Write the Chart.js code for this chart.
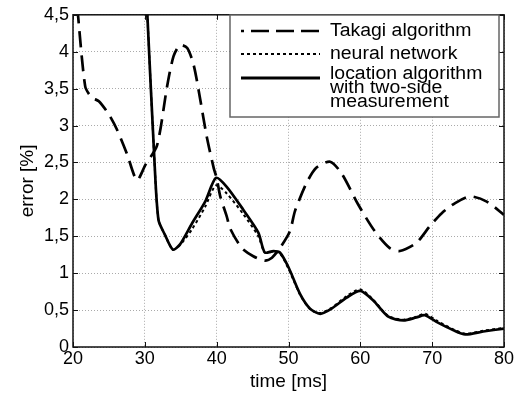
<!DOCTYPE html>
<html lang="en">
<head>
  <meta charset="UTF-8" />
  <title>error vs time</title>
  <style>
    html, body { margin: 0; padding: 0; background: #fff; }
    .wrap { width: 520px; height: 399px; position: relative; }
  </style>
</head>
<body>
  <div class="wrap">
    <canvas id="errChart" width="520" height="399"></canvas>
  </div>

  <script src="https://cdn.jsdelivr.net/npm/chart.js"></script>
  <script>
    // Takagi algorithm (dashed)
    const takagiTime = [20.6, 21.7, 22.6, 23.6, 25.0, 26.1, 27.5, 28.9, 30.1, 31.7, 33.1, 34.0, 34.9, 35.9, 36.8, 37.7, 38.6, 39.6, 40.0,
                        40.5, 41.4, 41.9, 43.5, 45.1, 46.7, 47.7, 48.8, 50.2, 50.9, 52.5, 53.9, 55.8, 57.4, 59.7, 62.0, 64.1, 65.5,
                        67.8, 69.7, 71.3, 73.2, 75.3, 77.6, 80.0];
    const takagiErr  = [4.6, 3.53, 3.38, 3.33, 3.15, 2.95, 2.62, 2.26, 2.47, 2.73, 3.53, 3.94, 4.09, 4.05, 3.82, 3.36, 2.86, 2.42, 2.29,
                        2.04, 1.77, 1.6, 1.34, 1.23, 1.17, 1.21, 1.34, 1.57, 1.84, 2.22, 2.43, 2.51, 2.35, 1.93, 1.57, 1.34, 1.30,
                        1.41, 1.64, 1.81, 1.95, 2.04, 1.97, 1.79];

    // neural network (dotted) and location algorithm (solid) share time points
    const locTime   = [30.3, 31.35, 31.9, 32.8, 33.9, 34.9, 36.6, 38.4, 39.9, 41.4, 43.7, 45.8, 46.7, 47.9, 48.8, 50.0,
                       51.6, 53.0, 54.4, 56.0, 58.1, 60.0, 61.8, 63.9, 66.0, 67.8, 69.0, 70.6, 72.9, 74.6, 77.1, 80.0];
    const neuralErr = [4.6, 2.5, 1.72, 1.52, 1.32, 1.38, 1.6, 1.9, 2.19, 2.08, 1.8, 1.5, 1.28, 1.29, 1.27, 1.06,
                       0.71, 0.51, 0.46, 0.53, 0.69, 0.78, 0.64, 0.42, 0.37, 0.41, 0.45, 0.36, 0.24, 0.18, 0.22, 0.26];
    const locErr    = [4.6, 2.5, 1.72, 1.52, 1.32, 1.39, 1.68, 1.97, 2.29, 2.17, 1.86, 1.55, 1.28, 1.30, 1.28, 1.08,
                       0.72, 0.52, 0.45, 0.52, 0.67, 0.76, 0.63, 0.41, 0.36, 0.40, 0.43, 0.34, 0.23, 0.17, 0.21, 0.25];

    const seriesNames = ["Takagi algorithm", "neural network", ["location algorithm", "with two-side", "measurement"]];

    const xMin = 20, xMax = 80, xStep = 10;
    const yMin = 0, yMax = 4.5, yStep = 0.5;

    const pts = (xs, ys) => xs.map((x, i) => ({ x: x, y: ys[i] }));
    const FONT = "'Liberation Sans', Arial, sans-serif";

    // frame, inward ticks and the boxed legend, matlab style
    const framePlugin = {
      id: "frame",
      afterDraw(chart) {
        const ctx = chart.ctx;
        const a = chart.chartArea;
        const sx = chart.scales.x, sy = chart.scales.y;
        ctx.save();
        ctx.strokeStyle = "#111";
        ctx.lineWidth = 1.5;
        ctx.strokeRect(a.left, a.top, a.right - a.left, a.bottom - a.top);
        ctx.lineWidth = 1;
        for (let v = xMin; v <= xMax; v += xStep) {
          const px = Math.round(sx.getPixelForValue(v)) + 0.5;
          ctx.beginPath();
          ctx.moveTo(px, a.bottom); ctx.lineTo(px, a.bottom - 5);
          ctx.moveTo(px, a.top); ctx.lineTo(px, a.top + 5);
          ctx.stroke();
        }
        for (let v = yMin; v <= yMax + 1e-9; v += yStep) {
          const py = Math.round(sy.getPixelForValue(v)) + 0.5;
          ctx.beginPath();
          ctx.moveTo(a.left, py); ctx.lineTo(a.left + 5, py);
          ctx.moveTo(a.right, py); ctx.lineTo(a.right - 5, py);
          ctx.stroke();
        }

        // legend
        const bx = 230, by = 15, bw = 269, bh = 102;
        ctx.fillStyle = "#fff";
        ctx.fillRect(bx, by, bw, bh);
        ctx.strokeStyle = "#666";
        ctx.lineWidth = 1.5;
        ctx.strokeRect(bx, by, bw, bh);

        const rows = [
          { y: 31, dash: [18, 7], off: 15, width: 2.5 },
          { y: 54, dash: [3, 3], off: 0, width: 2 },
          { y: 78, dash: [], off: 0, width: 3 }
        ];
        ctx.strokeStyle = "#000";
        rows.forEach(r => {
          ctx.beginPath();
          ctx.setLineDash(r.dash);
          ctx.lineDashOffset = r.off;
          ctx.lineWidth = r.width;
          ctx.moveTo(241, r.y); ctx.lineTo(320, r.y);
          ctx.stroke();
        });
        ctx.setLineDash([]);
        ctx.fillStyle = "#000";
        ctx.textBaseline = "middle";
        ctx.textAlign = "left";
        ctx.font = "18px " + FONT;
        const lines = [[seriesNames[0], 31], [seriesNames[1], 54],
                       [seriesNames[2][0], 74], [seriesNames[2][1], 88], [seriesNames[2][2], 102]];
        lines.forEach(([t, y]) => {
          ctx.save();
          ctx.translate(330, y);
          ctx.scale(1.08, 1);
          ctx.fillText(t, 0, 0);
          ctx.restore();
        });
        ctx.restore();
      }
    };

    new Chart(document.getElementById("errChart"), {
      type: "line",
      data: {
        datasets: [
          {
            label: "Takagi algorithm",
            data: pts(takagiTime, takagiErr),
            borderColor: "#000",
            borderWidth: 2.7,
            borderDash: [16, 8],
            tension: 0.25,
            pointRadius: 0,
            order: 2
          },
          {
            label: "neural network",
            data: pts(locTime, neuralErr),
            borderColor: "#000",
            borderWidth: 2,
            borderDash: [3, 3],
            tension: 0.25,
            pointRadius: 0,
            order: 1
          },
          {
            label: "location algorithm with two-side measurement",
            data: pts(locTime, locErr),
            borderColor: "#000",
            borderWidth: 2.7,
            tension: 0.25,
            pointRadius: 0,
            order: 0
          }
        ]
      },
      options: {
        responsive: false,
        animation: false,
        layout: { padding: { left: 0, right: 16, top: 11, bottom: 6 } },
        plugins: {
          legend: { display: false },
          tooltip: { enabled: false }
        },
        scales: {
          x: {
            type: "linear",
            min: xMin, max: xMax,
            ticks: { stepSize: xStep, color: "#000", padding: 1, font: { family: FONT, size: 18 } },
            grid: { color: "#aaa", lineWidth: 1, drawTicks: false },
            border: { display: false, dash: [1, 2] },
            title: { display: true, text: "time [ms]", color: "#000", padding: 0, font: { family: FONT, size: 19 } },
            afterFit(scale) { scale.height = 46; }
          },
          y: {
            min: yMin, max: yMax,
            ticks: {
              stepSize: yStep, color: "#000", padding: 4, font: { family: FONT, size: 18 },
              callback: v => String(v).replace(".", ",")
            },
            grid: { color: "#aaa", lineWidth: 1, drawTicks: false },
            border: { display: false, dash: [1, 2] },
            title: { display: true, text: "error [%]", color: "#000", padding: { top: 16, bottom: 0 }, font: { family: FONT, size: 19 } },
            afterFit(scale) { scale.width = 73; }
          }
        }
      },
      plugins: [framePlugin]
    });
  </script>
</body>
</html>
